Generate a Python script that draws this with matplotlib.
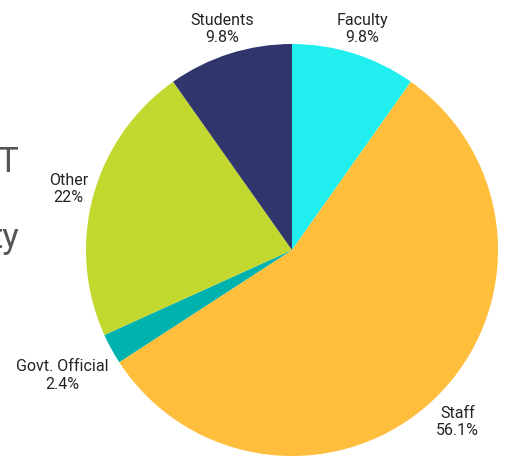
import matplotlib
matplotlib.use("Agg")
import matplotlib.pyplot as plt
from matplotlib import font_manager
import numpy as np

categories = ["Faculty", "Staff", "Govt. Official", "Other", "Students"]
values = [9.8, 56.1, 2.4, 22, 9.8]
pct_labels = ["9.8%", "56.1%", "2.4%", "22%", "9.8%"]
colors = ["#21EFEF", "#FFBE3B", "#00B2AE", "#C3D82F", "#30356B"]
label_dist = [1.125, 1.16, 1.27, 1.125, 1.125]

reg = [f.fname for f in font_manager.fontManager.ttflist if f.fname.endswith('Roboto-Regular.ttf')]
if reg:
    fp = font_manager.FontProperties(fname=reg[0], size=11.5)
    fp_big = font_manager.FontProperties(fname=reg[0], size=25)
else:
    fp = font_manager.FontProperties(family=['Roboto', 'DejaVu Sans'], size=11.5)
    fp_big = font_manager.FontProperties(family=['Roboto', 'DejaVu Sans'], size=25)

W, H = 507, 461
fig = plt.figure(figsize=(W / 100, H / 100), dpi=100)
ax = fig.add_axes([0, 0, 1, 1])
cx, cy, R = 292, 250, 206

wedges, _ = ax.pie(values, colors=colors, startangle=90, counterclock=False,
                   radius=1, frame=True, wedgeprops=dict(linewidth=0))
ax.set_xlim(-cx / R, (W - cx) / R)
ax.set_ylim(-(H - cy) / R, cy / R)
ax.set_aspect('auto')
ax.axis('off')

for w, cat, p, d in zip(wedges, categories, pct_labels, label_dist):
    ang = np.deg2rad((w.theta1 + w.theta2) / 2)
    ax.text(d * np.cos(ang), d * np.sin(ang), f"{cat}\n{p}", ha='center', va='center',
            fontproperties=fp, color='#222222', linespacing=1.2)

fig.text(-3 / W, 1 - 162 / H, "T", fontproperties=fp_big, color='#555555', ha='left', va='center')
fig.text(20 / W, 1 - 238 / H, "ty", fontproperties=fp_big, color='#555555', ha='right', va='center')

fig.savefig("out.png", dpi=100)
